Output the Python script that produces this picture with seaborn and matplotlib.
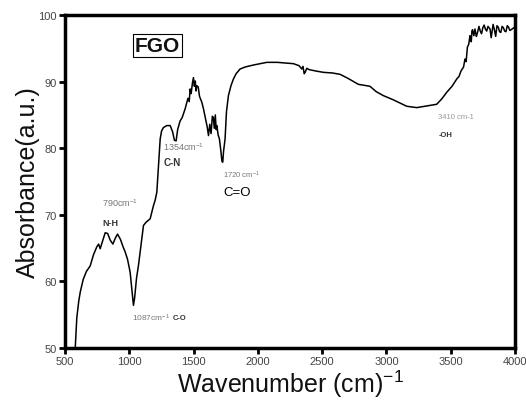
import pandas as pd
import matplotlib.pyplot as plt
import seaborn as sns

# FTIR spectrum of FGO
wavenumber = [578, 590, 605, 617, 640, 665, 694, 720, 746, 760, 772, 790, 811, 830, 850,
              871, 890, 907, 930, 950, 967, 985, 1005, 1020, 1031, 1040, 1055, 1070, 1090,
              1109, 1130, 1161, 1175, 1187, 1200, 1213, 1225, 1239, 1250, 1264, 1290, 1317,
              1335, 1350, 1363, 1375, 1394, 1410, 1433, 1445, 1455, 1465, 1472, 1480, 1490,
              1498, 1505, 1512, 1518, 1524, 1535, 1545, 1563, 1575, 1590, 1605, 1615, 1625,
              1635, 1645, 1653, 1660, 1668, 1675, 1680, 1690, 1700, 1710, 1720, 1726, 1732,
              1738, 1744, 1755, 1770, 1790, 1809, 1830, 1861, 1900, 1965, 2069, 2150, 2276,
              2320, 2341, 2350, 2360, 2367, 2380, 2400, 2450, 2509, 2580, 2639, 2700, 2781,
              2872, 2920, 2976, 3050, 3158, 3236, 3300, 3391, 3430, 3469, 3510, 3530, 3547,
              3565, 3580, 3600, 3611, 3620, 3630, 3640, 3650, 3655, 3660, 3665, 3670, 3680,
              3689, 3695, 3700, 3710, 3720, 3730, 3740, 3750, 3760, 3770, 3780, 3790, 3806,
              3815, 3830, 3840, 3850, 3860, 3870, 3880, 3890, 3900, 3910, 3920, 3930, 3940,
              3950, 3960, 3970, 3984, 4000]
absorbance = [50.0, 54.5, 57.0, 58.4, 60.3, 61.5, 62.3, 64.0, 65.2, 65.6, 64.9, 66.0, 67.3,
              67.2, 66.2, 65.6, 66.5, 67.1, 66.3, 65.2, 64.4, 63.3, 61.4, 58.5, 56.4, 57.5,
              60.5, 62.4, 65.5, 68.4, 68.9, 69.4, 70.5, 71.4, 72.2, 73.4, 77.0, 81.4, 82.6,
              83.1, 83.4, 83.4, 82.5, 81.2, 81.1, 82.8, 84.1, 84.6, 85.9, 86.8, 87.5, 87.0,
              88.9, 88.2, 89.8, 90.6, 89.3, 90.1, 88.6, 89.4, 89.2, 87.8, 86.9, 86.0, 84.6,
              83.2, 81.9, 83.6, 82.2, 84.8, 84.6, 83.0, 85.0, 82.8, 83.4, 82.0, 81.4, 79.8,
              78.0, 77.9, 79.5, 80.5, 81.4, 85.5, 87.9, 89.4, 90.4, 91.2, 91.9, 92.2, 92.5,
              92.9, 92.9, 92.7, 92.4, 91.9, 92.3, 91.2, 91.4, 92.0, 91.8, 91.6, 91.4, 91.3,
              91.1, 90.5, 89.6, 89.3, 88.5, 87.9, 87.3, 86.3, 86.1, 86.3, 86.6, 87.4, 88.4,
              89.3, 89.9, 90.4, 90.8, 91.6, 92.2, 93.4, 93.0, 95.2, 95.6, 96.9, 96.2, 96.0,
              97.6, 97.8, 96.9, 97.9, 97.2, 96.8, 97.5, 98.3, 97.6, 97.2, 98.1, 98.5, 97.9,
              97.6, 98.3, 97.9, 96.6, 98.6, 97.8, 96.8, 98.4, 98.2, 97.5, 97.4, 98.3, 98.1,
              97.6, 97.5, 98.4, 98.2, 97.7, 97.8, 98.0, 98.2]

df = pd.DataFrame({'wavenumber': wavenumber, 'absorbance': absorbance})

sns.set_style("white")
plt.rcParams['font.family'] = ['Liberation Sans', 'DejaVu Sans']
plt.rcParams['mathtext.fontset'] = 'custom'
plt.rcParams['mathtext.rm'] = 'Liberation Sans'
plt.rcParams['mathtext.it'] = 'Liberation Sans'
plt.rcParams['mathtext.bf'] = 'Liberation Sans:bold'

fig = plt.figure(figsize=(5.26, 4.02), dpi=100)
ax = fig.add_axes([0.124, 0.132, 0.855, 0.828])
sns.lineplot(data=df, x='wavenumber', y='absorbance', color='black', linewidth=1.1,
             estimator=None, ax=ax)

ax.set_xlim(500, 4000)
ax.set_ylim(50, 100)
ax.set_xticks([500, 1000, 1500, 2000, 2500, 3000, 3500, 4000])
ax.set_yticks([50, 60, 70, 80, 90, 100])
for s in ax.spines.values():
    s.set_linewidth(2.5)
    s.set_color('black')
ax.tick_params(axis='both', direction='out', length=4, width=2, labelsize=8,
               labelcolor='#444444', color='black', bottom=True, left=True, pad=2)

ax.set_xlabel('Wavenumber (cm)$^{-1}$', fontsize=18, labelpad=1, color='#111111')
ax.set_ylabel('Absorbance(a.u.)', fontsize=18, labelpad=-1, color='#111111')

# peak annotations
ax.text(1219, 95.4, 'FGO', fontsize=15, fontweight='bold', ha='center', va='center',
        color='#111111',
        bbox=dict(boxstyle='square,pad=0.1', facecolor='white', edgecolor='black', linewidth=0.8))
ax.text(790, 71.9, '790cm$^{-1}$', fontsize=6.5, color='#777777', ha='left', va='center')
ax.text(790, 68.9, 'N-H', fontsize=6.5, color='#333333', fontweight='bold', ha='left', va='center')
ax.text(1262, 80.3, '1354cm$^{-1}$', fontsize=6.5, color='#777777', ha='left', va='center')
ax.text(1262, 77.9, 'C-N', fontsize=7, color='#333333', fontweight='bold', ha='left', va='center')
ax.text(1729, 76.1, '1720 cm$^{-1}$', fontsize=5.5, color='#777777', ha='left', va='center')
ax.text(1729, 73.4, 'C=O', fontsize=9.5, color='black', ha='left', va='center')
ax.text(1020, 54.6, '1087cm$^{-1}$', fontsize=6, color='#777777', ha='left', va='center')
ax.text(1340, 54.6, 'C-O', fontsize=5.5, color='#333333', fontweight='bold', ha='left', va='center')
ax.text(3405, 84.8, '3410 cm-1', fontsize=5.5, color='#999999', ha='left', va='center')
ax.text(3405, 82.1, '-OH', fontsize=5.5, color='#333333', fontweight='bold', ha='left', va='center')

fig.savefig('out.png', dpi=100)
